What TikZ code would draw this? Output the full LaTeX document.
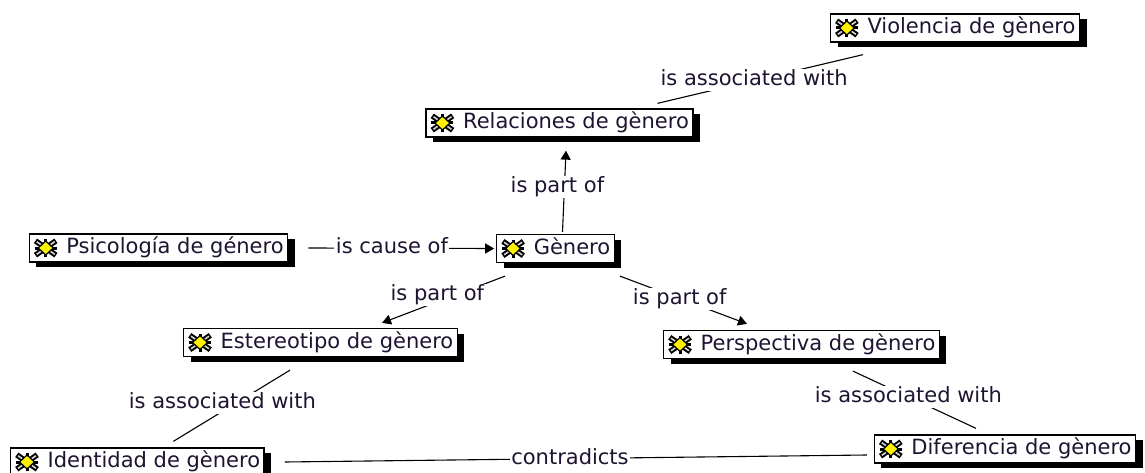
\documentclass[tikz,border=0pt]{standalone}
\usepackage{fontspec}
\setmainfont{DejaVu Sans}
\usepackage{xcolor}
\usepackage{tikz}
\usetikzlibrary{arrows.meta,shadows}
\definecolor{tinta}{RGB}{30,20,50}
\newcommand{\hueco}{\hspace*{33pt}}

\begin{document}
\begin{tikzpicture}[x=1pt,y=-1pt,
    concepto/.style={draw,line width=1.3pt,fill=white,inner xsep=4pt,inner ysep=3.5pt,
      text height=16pt,text depth=5pt,text=tinta,font=\fontsize{21}{25}\selectfont,
      drop shadow={shadow xshift=7pt,shadow yshift=-5pt,fill=black,opacity=1}},
    etiqueta/.style={fill=white,inner sep=1.5pt,text height=15pt,text depth=4pt,
      text=tinta,font=\fontsize{21}{25}\selectfont},
    enlace/.style={line width=1.1pt},
    flecha/.style={enlace,-{Triangle[length=9pt,width=10pt]}},
    icono/.pic={
      \draw[line width=3pt,black] (-11pt,0pt) -- (11pt,0pt) (0pt,-9pt) -- (0pt,9pt);
      \foreach \a in {35,145,215,325}{
        \draw[line width=5.5pt,black] (0pt,0pt) -- (\a:12.5pt);
        \draw[line width=1.6pt,gray!35] (0pt,0pt) -- (\a:11pt);
      }
      \draw[black,line width=1.2pt,fill=yellow] (-7.5pt,0pt) -- (0pt,7pt) -- (7.5pt,0pt) -- (0pt,-7pt) -- cycle;
    }]
    % Fondo
    \fill[white] (0,0) rectangle (1145,473);
    \useasboundingbox (0,0) rectangle (1145,473);
    % Conceptos
    \node[concepto] (viol) at (955,28) {\hueco Violencia de gènero};
    \node[concepto] (rel) at (559.5,123) {\hueco Relaciones de gènero};
    \node[concepto] (psi) at (158.5,248) {\hueco Psicología de género};
    \node[concepto] (gen) at (555.5,248.5) {\hueco Gènero};
    \node[concepto] (est) at (320.5,342.5) {\hueco Estereotipo de gènero};
    \node[concepto] (per) at (801.5,344.5) {\hueco Perspectiva de gènero};
    \node[concepto,anchor=west] (ide) at (10,462) {\hueco Identidad de gènero};
    \node[concepto] (dif) at (1005,449) {\hueco Diferencia de gènero};
    \foreach \n in {viol,rel,psi,gen,est,per,ide,dif}
      \pic at ([xshift=17pt]\n.west) {icono};
    % Enlaces
    \draw[enlace] ([shift={(98pt,5pt)}]rel.north) -- node[etiqueta,pos=0.47] (a1) {is associated with} ([shift={(-92pt,-12pt)}]viol.south);
    \draw[flecha] ([shift={(7pt,2pt)}]gen.north) -- node[etiqueta,pos=0.55,xshift=-7pt] (p1) {is part of} ([shift={(6.5pt,-13pt)}]rel.south);
    \draw[flecha] ([xshift=20pt]psi.east) -- node[etiqueta,pos=0.45] (c1) {is cause of} ([xshift=-2pt]gen.west);
    \draw[flecha] ([shift={(-50.5pt,-13pt)}]gen.south) -- node[etiqueta,pos=0.55,yshift=7pt] (p2) {is part of} ([shift={(61.5pt,5pt)}]est.north);
    \draw[flecha] ([shift={(64.5pt,-13pt)}]gen.south) -- node[etiqueta,pos=0.47] (p3) {is part of} ([shift={(-54.5pt,6pt)}]per.north);
    \draw[enlace] ([shift={(-30.5pt,-13pt)}]est.south) -- node[etiqueta,pos=0.58,yshift=8pt] (a2) {is associated with} ([shift={(36pt,6pt)}]ide.north);
    \draw[enlace] ([shift={(51.5pt,-12pt)}]per.south) -- node[etiqueta,pos=0.45] (a3) {is associated with} ([shift={(-29pt,6pt)}]dif.north);
    \draw[enlace] ([xshift=20pt]ide.east) -- node[etiqueta,pos=0.49] (k1) {contradicts} ([shift={(-7pt,-6pt)}]dif.west);
\end{tikzpicture}
\end{document}
